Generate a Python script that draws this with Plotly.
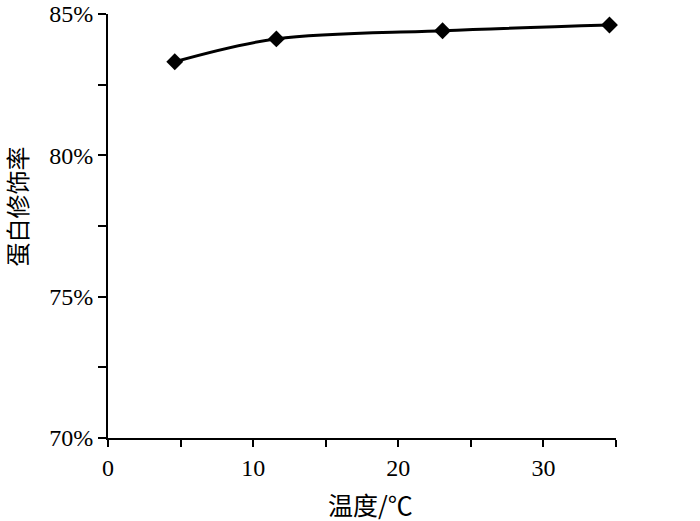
import plotly.graph_objects as go

temperature = [4.6, 11.6, 23.05, 34.55]
modification_rate = [83.31, 84.12, 84.41, 84.61]

x_tick_vals = [0, 10, 20, 30]
x_tick_text = ["0", "10", "20", "30"]
y_tick_vals = [70, 75, 80, 85]
y_tick_text = ["70%", "75%", "80%", "85%"]

serif = "Liberation Serif, Times New Roman, serif"
cjk = "Noto Sans CJK SC, sans-serif"

fig = go.Figure()
fig.add_trace(go.Scatter(
    x=temperature, y=modification_rate,
    mode="lines+markers",
    line=dict(color="black", width=3, shape="spline", smoothing=1.0),
    marker=dict(symbol="diamond", size=13, color="black"),
    cliponaxis=False,
    showlegend=False,
))

fig.update_layout(
    width=700, height=521,
    margin=dict(l=108, r=84, t=14, b=83),
    paper_bgcolor="white", plot_bgcolor="white",
    xaxis=dict(
        range=[0, 35], tickvals=x_tick_vals, ticktext=x_tick_text,
        showgrid=False, zeroline=False, automargin=False,
        showline=True, linecolor="black", linewidth=2,
        ticks="outside", ticklen=7, tickwidth=2, tickcolor="black",
        minor=dict(tickvals=[5, 15, 25, 35], ticks="outside", ticklen=7, tickwidth=2, tickcolor="black"),
        tickfont=dict(family=serif, size=24, color="black"),
    ),
    yaxis=dict(
        range=[70, 85.0001], tickvals=y_tick_vals, ticktext=y_tick_text,
        showgrid=False, zeroline=False, automargin=False,
        showline=True, linecolor="black", linewidth=2,
        ticks="outside", ticklen=8, tickwidth=2, tickcolor="black",
        minor=dict(tickvals=[72.5, 77.5, 82.5], ticks="outside", ticklen=8, tickwidth=2, tickcolor="black"),
        tickfont=dict(family=serif, size=24, color="black"),
        ticklabeloverflow="allow",
    ),
    annotations=[
        dict(text="温度/℃", xref="paper", yref="paper", x=0.516, y=-0.155,
             xanchor="center", yanchor="middle", showarrow=False,
             font=dict(family=cjk, size=25, color="black")),
        dict(text="蛋白修饰率", xref="paper", yref="paper", x=-0.180, y=0.545,
             xanchor="center", yanchor="middle", showarrow=False, textangle=-90,
             font=dict(family=cjk, size=24, color="black")),
    ],
)

fig.write_html("out.html", config={"displayModeBar": False},
               post_script="document.body.style.margin='0';document.body.style.overflow='hidden';")
